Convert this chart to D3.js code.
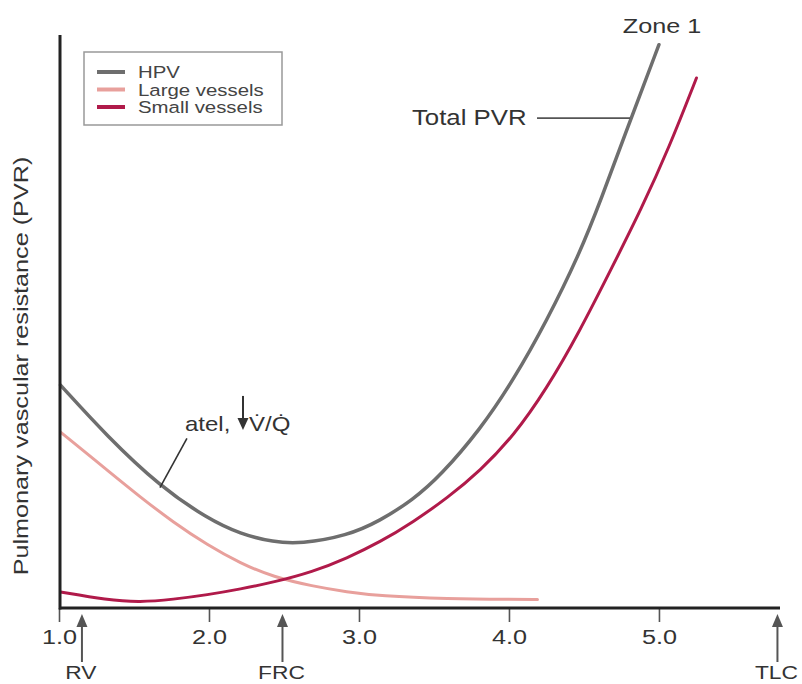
<!DOCTYPE html>
<html><head><meta charset="utf-8">
<script src="https://cdn.jsdelivr.net/npm/d3@7/dist/d3.min.js"></script>
<style>
body{margin:0;background:#fff}
svg{display:block}
text{font-family:"Liberation Sans",Arial,Helvetica,sans-serif;fill:#333}
</style>
</head><body>
<svg id="chart" width="802" height="684"></svg>
<script>
// ---- data (lung volume in L vs. PVR, arbitrary units) ----
const hpvVol   = [1.01, 1.32, 1.67, 1.99, 2.21, 2.43, 2.61, 2.92, 3.14, 3.36, 3.54, 3.81, 4.03, 4.25, 4.47, 4.61, 4.81, 5.0];
const hpvVal   = [38.9, 30.0, 21.3, 15.6, 12.9, 11.5, 11.2, 12.6, 15.2, 18.9, 23.0, 31.2, 39.8, 50.0, 61.8, 71.0, 85.2, 98.3];
const largeVol = [1.01, 1.32, 1.54, 1.76, 1.99, 2.21, 2.43, 2.69, 2.92, 3.14, 3.59, 4.03, 4.19];
const largeVal = [30.7, 24.1, 19.4, 15.0, 11.0, 7.8, 5.4, 3.8, 2.8, 2.1, 1.6, 1.5, 1.5];
const smallVol = [1.01, 1.32, 1.54, 1.76, 1.99, 2.21, 2.43, 2.69, 2.92, 3.14, 3.36, 3.59, 3.81, 4.03, 4.25, 4.47, 4.69, 4.88, 5.07, 5.25];
const smallVal = [2.8, 1.4, 1.0, 1.5, 2.3, 3.3, 4.5, 6.3, 8.7, 11.5, 15.0, 19.2, 24.0, 30.0, 38.2, 48.2, 59.6, 69.5, 80.5, 92.5];

const seriesNames  = ["HPV", "Large vessels", "Small vessels"];
const seriesColors = ["#6e6e6e", "#e8a09c", "#b01a4a"];

const tickValues = [1, 2, 3, 4, 5];
const tickLabels = ["1.0", "2.0", "3.0", "4.0", "5.0"];

const markerLabels = ["RV", "FRC", "TLC"];
const markerVols   = [1.153, 2.49, 5.79];

const yLabel = "Pulmonary vascular resistance (PVR)";

// annotations in data space
const atelText = {vol: 1.84, val: 30.9};
const atelLeader = [[1.853, 29.6], [1.673, 21.0]];
const totalText = {vol: 3.353, val: 84.3};
const totalLeader = [[4.187, 85.5], [4.807, 85.5]];
const zoneText = {vol: 5.02, val: 100.3};

// ---- scales ----
const svg = d3.select("#chart");
const x = d3.scaleLinear().domain([1, 5.807]).range([59, 780]);
const y = d3.scaleLinear().domain([0, 100]).range([608, 35]);
const SX = 1.2; // horizontal text stretch of the original artwork

function stretchText(g, px, py, str, size, anchor, rot) {
  return g.append("text")
    .attr("transform", `translate(${px},${py})${rot ? ` rotate(${rot})` : ""} scale(${SX},1)`)
    .attr("text-anchor", anchor || "start")
    .style("font-size", size + "px")
    .text(str);
}

// ---- curves ----
const line = d3.line().x(d => x(d[0])).y(d => y(d[1])).curve(d3.curveBasis);
const series = [
  {vol: largeVol, val: largeVal, color: seriesColors[1], w: 3},
  {vol: smallVol, val: smallVal, color: seriesColors[2], w: 3},
  {vol: hpvVol,   val: hpvVal,   color: seriesColors[0], w: 3.5}
];
series.forEach(s => {
  svg.append("path")
    .datum(s.vol.map((v, i) => [v, s.val[i]]))
    .attr("d", line)
    .attr("fill", "none")
    .attr("stroke", s.color)
    .attr("stroke-width", s.w)
    .attr("stroke-linecap", "round");
});

// ---- axes ----
const xAxis = d3.axisBottom(x)
  .tickValues(tickValues)
  .tickFormat((d, i) => tickLabels[i])
  .tickSize(14)
  .tickPadding(7);
const gx = svg.append("g").attr("transform", `translate(0,${y(0)})`).call(xAxis);
gx.select(".domain").remove();
gx.selectAll(".tick line").attr("stroke", "#555").attr("stroke-width", 1.6);
gx.selectAll(".tick text")
  .attr("transform", `scale(${SX},1)`)
  .style("font-size", "21px")
  .style("font-family", '"Liberation Sans",Arial,sans-serif')
  .attr("fill", "#333");

svg.append("line")
  .attr("x1", x(1)).attr("x2", x.range()[1])
  .attr("y1", y(0)).attr("y2", y(0))
  .attr("stroke", "#222").attr("stroke-width", 3);
svg.append("line")
  .attr("x1", x(1) + 1).attr("x2", x(1) + 1)
  .attr("y1", y.range()[1]).attr("y2", y(0) + 1.5)
  .attr("stroke", "#222").attr("stroke-width", 3);

// y axis title
stretchText(svg, 28, 366, yLabel, 21, "middle", -90);

// ---- volume markers (RV, FRC, TLC) ----
markerVols.forEach((v, i) => {
  const mx = x(v), top = y(0) + 6;
  const g = svg.append("g");
  g.append("line").attr("x1", mx).attr("x2", mx).attr("y1", top + 10).attr("y2", top + 48)
    .attr("stroke", "#555").attr("stroke-width", 2);
  g.append("path")
    .attr("d", `M${mx},${top} L${mx - 5.5},${top + 13} L${mx + 5.5},${top + 13} Z`)
    .attr("fill", "#555");
  stretchText(svg, mx - 1, 679, markerLabels[i], 19, "middle");
});

// ---- legend ----
const lg = svg.append("g");
lg.append("rect").attr("x", 84).attr("y", 52).attr("width", 198).attr("height", 73)
  .attr("fill", "#fff").attr("stroke", "#999").attr("stroke-width", 1.5);
seriesNames.forEach((n, i) => {
  const ly = 72 + i * 17.5;
  lg.append("line").attr("x1", 97).attr("x2", 125).attr("y1", ly).attr("y2", ly)
    .attr("stroke", seriesColors[i]).attr("stroke-width", 4);
  stretchText(lg, 138, ly + 6, n, 17, "start").style("fill", "#444");
});

// ---- annotations ----
const ann = svg.append("g");
// atel, ↓V/Q
stretchText(ann, x(atelText.vol), y(atelText.val), "atel,", 20, "start");
const ax = x(atelText.vol) + 58;
ann.append("line").attr("x1", ax).attr("x2", ax)
  .attr("y1", y(atelText.val) - 35).attr("y2", y(atelText.val) - 8)
  .attr("stroke", "#333").attr("stroke-width", 2);
ann.append("path")
  .attr("d", `M${ax},${y(atelText.val) - 1} L${ax - 5.5},${y(atelText.val) - 13} L${ax + 5.5},${y(atelText.val) - 13} Z`)
  .attr("fill", "#333");
stretchText(ann, ax + 6, y(atelText.val), "V\u0307/Q\u0307", 20, "start");
ann.append("line")
  .attr("x1", x(atelLeader[0][0])).attr("y1", y(atelLeader[0][1]))
  .attr("x2", x(atelLeader[1][0])).attr("y2", y(atelLeader[1][1]))
  .attr("stroke", "#333").attr("stroke-width", 1.6);

// Total PVR
stretchText(ann, x(totalText.vol), y(totalText.val), "Total PVR", 21.5, "start");
ann.append("line")
  .attr("x1", x(totalLeader[0][0])).attr("y1", y(totalLeader[0][1]))
  .attr("x2", x(totalLeader[1][0])).attr("y2", y(totalLeader[1][1]))
  .attr("stroke", "#555").attr("stroke-width", 1.6);

// Zone 1
stretchText(ann, x(zoneText.vol), y(zoneText.val), "Zone 1", 21, "middle");
</script>
</body></html>
